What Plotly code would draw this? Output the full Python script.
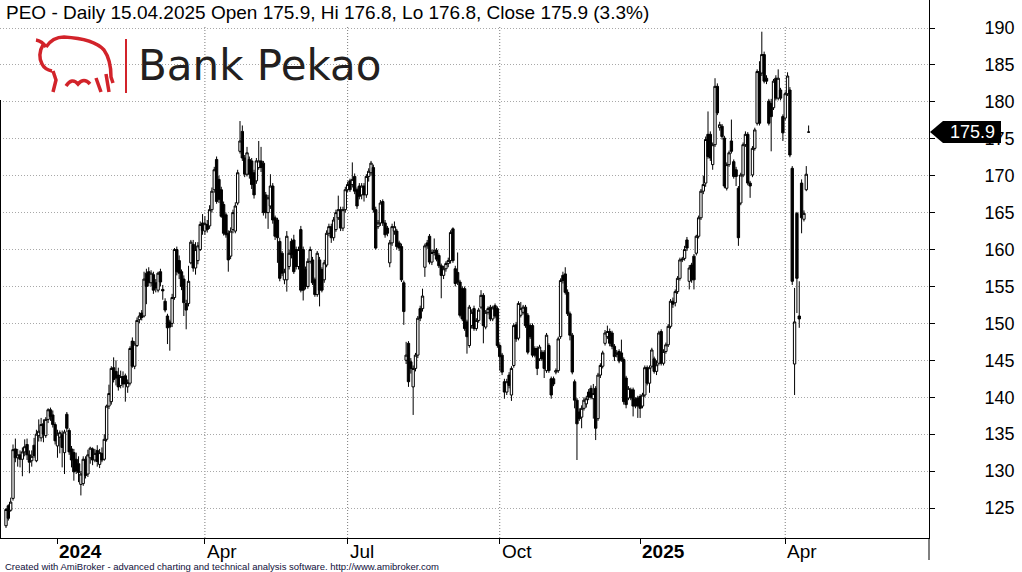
import pandas as pd
import plotly.graph_objects as go

# ---------------- data ----------------
START_DATE = "2023-11-28"
END_DATE = "2025-04-15"
HOLIDAYS = ["2023-12-25", "2023-12-26", "2024-01-01", "2024-03-29", "2024-04-01",
            "2024-05-01", "2024-05-03", "2024-05-30", "2024-08-15", "2024-11-01",
            "2024-11-11", "2024-12-24", "2024-12-25", "2024-12-26", "2024-12-31",
            "2025-01-01", "2025-01-06"]

OPEN = [
    122.6, 125.3, 124.7, 126.3, 133.0, 131.8, 132.2, 131.6, 132.6, 133.6,
    132.2, 131.4, 133.5, 131.4, 134.8, 134.5, 136.4, 134.8, 137.0, 138.3,
    137.6, 136.3, 133.4, 134.6, 135.0, 132.5, 137.7, 135.5, 133.0, 132.5,
    131.6, 131.0, 128.2, 128.3, 131.6, 129.6, 131.8, 133.0, 131.5, 132.8,
    130.9, 132.4, 131.6, 134.3, 138.8, 139.4, 144.0, 143.5, 143.0, 141.6,
    142.8, 142.9, 141.4, 141.9, 147.6, 144.2, 147.0, 150.5, 151.4, 151.0,
    156.8, 157.0, 155.5, 156.6, 155.5, 154.5, 157.0, 154.6, 153.0, 151.0,
    150.2, 150.0, 153.5, 160.0, 158.5, 157.0, 156.0, 152.7, 152.7, 158.2,
    160.7, 157.5, 158.5, 160.0, 163.6, 162.5, 163.4, 163.2, 165.4, 168.1,
    172.2, 169.5, 168.1, 166.1, 164.7, 162.2, 159.1, 162.7, 162.5, 166.3,
    173.3, 176.0, 172.4, 170.2, 172.2, 172.0, 170.4, 169.3, 171.1, 172.0,
    171.7, 167.4, 165.0, 165.9, 168.6, 164.3, 164.0, 161.1, 159.5, 155.9,
    155.9, 157.7, 161.1, 161.3, 160.0, 157.7, 162.7, 160.0, 157.3, 155.0,
    158.4, 158.6, 155.9, 153.9, 158.6, 157.3, 155.9, 157.9, 162.2, 163.1,
    161.6, 162.7, 164.3, 165.4, 162.9, 165.4, 168.1, 169.3, 168.8, 169.9,
    168.1, 168.6, 167.4, 168.6, 167.4, 169.9, 170.4, 171.1, 165.4, 163.1,
    163.6, 166.5, 163.6, 162.9, 158.2, 160.9, 162.5, 162.5, 160.9, 160.4,
    155.5, 145.0, 147.3, 144.8, 141.4, 143.9, 145.7, 152.0, 152.0, 157.6,
    160.9, 161.8, 158.3, 159.6, 159.9, 159.2, 157.8, 156.5, 157.4, 158.1,
    158.5, 162.8, 157.4, 156.9, 155.6, 154.7, 154.7, 150.2, 147.0, 149.7,
    152.0, 149.3, 150.4, 152.2, 153.8, 149.5, 151.5, 152.2, 150.6, 152.4,
    152.0, 147.0, 145.7, 142.1, 140.7, 143.0, 140.3, 144.3, 149.8, 148.0,
    151.1, 151.5, 152.2, 151.1, 149.7, 149.7, 146.6, 146.6, 145.2, 146.1,
    146.1, 143.6, 147.0, 142.5, 142.5, 143.4, 143.6, 148.2, 156.5, 156.7,
    154.2, 151.3, 148.4, 142.1, 139.6, 138.0, 137.3, 138.5, 139.1, 140.7,
    141.2, 139.8, 141.2, 137.1, 143.0, 144.2, 147.3, 148.2, 148.9, 148.7,
    146.9, 145.8, 146.2, 146.0, 145.1, 142.6, 139.9, 141.0, 141.0, 139.7,
    139.9, 140.1, 138.8, 140.3, 144.0, 141.9, 144.2, 145.2, 143.5, 144.6,
    148.9, 144.6, 146.2, 147.1, 149.6, 153.0, 152.8, 154.3, 156.1, 158.6,
    158.8, 161.3, 155.7, 157.9, 159.1, 159.5, 161.8, 164.3, 167.9, 169.0,
    175.6, 175.6, 171.5, 174.2, 182.1, 176.5, 176.7, 175.1, 168.3, 171.5,
    174.7, 171.9, 170.8, 168.3, 166.3, 170.1, 174.2, 175.6, 169.0, 170.1,
    173.7, 177.1, 184.1, 183.9, 186.4, 183.2, 180.1, 179.8, 179.2, 183.2,
    180.5, 181.6, 178.0, 177.8, 181.1, 181.6, 171.0, 144.5, 164.9, 151.0,
    169.0, 164.1, 168.1, 175.9,
]
HIGH = [
    125.0, 125.5, 126.4, 133.6, 134.4, 133.0, 132.8, 133.2, 134.3, 134.4,
    132.8, 132.8, 134.5, 135.6, 137.0, 137.2, 137.0, 137.3, 138.5, 138.6,
    138.2, 136.6, 135.6, 135.5, 135.5, 135.6, 138.0, 135.8, 133.4, 133.0,
    132.5, 132.0, 130.0, 132.0, 132.0, 132.9, 133.3, 133.2, 133.0, 133.5,
    133.0, 133.2, 135.0, 139.0, 141.7, 144.2, 145.4, 145.0, 144.0, 143.6,
    143.5, 143.2, 142.4, 146.9, 148.1, 147.6, 150.8, 151.5, 151.8, 157.0,
    157.4, 157.6, 157.2, 157.0, 156.0, 157.0, 157.4, 155.2, 153.4, 151.3,
    150.5, 154.0, 160.2, 160.4, 159.2, 157.3, 156.5, 153.2, 157.8, 161.3,
    161.3, 161.0, 161.0, 163.8, 164.8, 164.5, 164.0, 166.0, 168.4, 171.2,
    172.6, 170.0, 168.5, 166.5, 165.0, 162.6, 163.0, 165.4, 166.4, 170.8,
    177.4, 176.8, 172.8, 173.9, 172.6, 172.4, 170.8, 172.4, 174.7, 173.9,
    172.0, 167.8, 167.4, 170.2, 169.0, 164.6, 164.3, 161.6, 159.8, 157.4,
    162.5, 160.0, 161.5, 162.0, 160.4, 160.4, 163.2, 160.4, 157.7, 158.8,
    160.4, 159.0, 156.2, 159.8, 159.0, 157.6, 158.6, 162.6, 163.5, 163.5,
    164.4, 165.4, 167.3, 165.8, 165.8, 168.5, 169.2, 169.6, 171.8, 170.3,
    168.4, 169.0, 169.0, 169.0, 170.2, 171.0, 172.0, 171.5, 165.8, 164.0,
    166.7, 166.8, 164.0, 163.2, 161.3, 163.5, 163.8, 162.8, 161.2, 160.8,
    155.8, 147.5, 147.6, 145.3, 144.3, 146.0, 151.0, 152.4, 154.7, 160.8,
    161.3, 162.1, 160.0, 161.5, 160.2, 159.5, 158.1, 157.8, 158.4, 158.9,
    162.6, 163.0, 157.8, 159.6, 155.9, 155.0, 155.0, 150.5, 152.5, 151.9,
    152.4, 150.7, 152.1, 154.5, 154.1, 151.8, 152.3, 152.5, 152.4, 152.7,
    152.3, 147.3, 146.0, 142.5, 142.5, 143.4, 144.2, 150.0, 150.2, 153.0,
    152.9, 152.5, 152.5, 151.4, 150.0, 150.0, 146.9, 146.9, 147.1, 146.4,
    146.4, 148.7, 147.3, 142.8, 142.8, 143.9, 148.2, 156.1, 157.0, 157.6,
    154.6, 151.6, 148.7, 142.4, 139.9, 138.5, 138.9, 140.0, 140.2, 141.1,
    141.6, 141.8, 141.5, 143.3, 144.6, 146.3, 149.1, 149.7, 149.3, 149.0,
    147.2, 146.4, 146.5, 147.8, 145.4, 142.9, 141.5, 141.3, 141.3, 140.0,
    140.2, 140.4, 140.6, 144.3, 144.3, 144.3, 146.7, 145.5, 145.0, 149.0,
    149.2, 146.5, 147.4, 149.9, 153.3, 153.5, 154.6, 156.4, 158.9, 159.0,
    160.5, 161.7, 157.9, 158.2, 159.4, 162.0, 164.6, 168.2, 170.0, 175.3,
    178.7, 176.0, 174.5, 183.2, 182.5, 177.3, 177.0, 175.4, 171.8, 173.4,
    177.6, 172.2, 171.2, 168.6, 170.4, 174.5, 176.0, 175.9, 169.3, 174.0,
    176.5, 184.4, 185.5, 189.5, 186.8, 183.6, 180.4, 180.4, 183.1, 183.6,
    184.4, 181.9, 178.3, 181.4, 184.0, 182.0, 171.3, 154.8, 165.1, 155.7,
    169.5, 165.3, 171.3, 176.8,
]
LOW = [
    122.3, 123.3, 124.5, 126.0, 131.2, 130.6, 130.5, 129.3, 132.0, 131.5,
    129.7, 130.6, 131.8, 131.2, 134.0, 134.0, 133.9, 134.5, 136.5, 136.8,
    135.9, 133.6, 131.8, 132.4, 130.5, 129.6, 135.3, 132.2, 130.5, 128.7,
    129.6, 128.5, 126.7, 128.0, 129.0, 129.2, 131.0, 130.8, 131.2, 130.6,
    130.4, 131.2, 131.4, 134.0, 138.4, 139.0, 142.0, 141.6, 140.9, 141.2,
    141.3, 139.4, 140.6, 141.6, 144.0, 143.8, 146.8, 150.0, 150.4, 150.8,
    152.6, 155.0, 155.0, 154.0, 154.2, 154.2, 155.0, 153.2, 151.5, 147.2,
    146.3, 149.5, 153.2, 156.5, 156.0, 154.5, 151.0, 149.2, 152.3, 158.0,
    157.0, 156.6, 158.0, 159.8, 162.0, 162.0, 162.3, 162.8, 165.0, 167.7,
    166.2, 166.3, 164.3, 161.9, 161.6, 157.0, 158.7, 162.2, 162.2, 166.0,
    173.0, 172.0, 169.8, 169.9, 169.6, 168.2, 166.9, 168.9, 170.8, 170.5,
    164.6, 164.2, 162.8, 165.5, 163.5, 161.3, 158.2, 155.7, 156.4, 155.3,
    154.3, 157.3, 158.8, 156.7, 157.3, 157.3, 154.2, 153.1, 154.6, 154.7,
    158.1, 155.2, 153.6, 153.6, 152.3, 154.2, 155.5, 157.6, 161.8, 160.9,
    161.2, 162.4, 164.0, 162.5, 162.5, 165.0, 167.8, 167.8, 168.4, 167.5,
    165.5, 166.8, 166.8, 166.5, 167.0, 169.2, 170.0, 165.0, 160.0, 162.8,
    163.2, 163.2, 161.6, 161.8, 157.6, 160.5, 162.0, 160.0, 159.8, 155.6,
    149.8, 144.5, 141.4, 143.2, 137.6, 143.5, 145.3, 150.3, 151.6, 156.3,
    160.1, 158.0, 157.9, 159.2, 158.4, 157.5, 153.4, 156.0, 157.0, 157.6,
    158.1, 158.2, 155.0, 155.2, 150.8, 150.3, 149.0, 145.9, 146.7, 149.3,
    149.0, 149.0, 150.1, 151.9, 147.3, 149.2, 151.2, 150.3, 150.3, 150.7,
    146.7, 143.6, 143.0, 139.8, 140.3, 141.2, 139.5, 144.0, 147.5, 147.7,
    150.8, 151.2, 149.4, 145.8, 147.9, 145.4, 145.4, 143.0, 144.9, 144.9,
    142.6, 143.3, 143.3, 139.8, 141.5, 143.1, 143.3, 147.9, 155.4, 153.9,
    151.0, 147.7, 143.1, 138.5, 131.5, 136.8, 135.8, 138.2, 138.6, 139.6,
    139.7, 137.1, 134.2, 136.8, 142.6, 143.9, 147.0, 147.9, 146.9, 146.5,
    144.9, 145.4, 144.6, 144.8, 139.0, 138.5, 139.6, 139.6, 137.4, 138.5,
    137.2, 137.2, 138.5, 140.0, 141.6, 140.6, 143.9, 143.2, 143.0, 144.3,
    144.3, 144.3, 145.9, 146.8, 149.3, 152.1, 152.3, 154.0, 155.8, 158.3,
    158.5, 159.8, 154.6, 155.5, 154.6, 159.2, 161.5, 164.0, 167.5, 168.5,
    172.3, 172.0, 170.8, 173.9, 178.2, 176.1, 174.9, 168.3, 168.0, 171.2,
    173.0, 169.6, 168.6, 160.5, 166.0, 169.8, 173.9, 168.7, 167.0, 169.8,
    173.4, 176.8, 176.8, 183.5, 182.5, 182.4, 176.8, 173.3, 178.9, 180.2,
    180.2, 180.2, 174.7, 177.5, 180.8, 172.5, 155.2, 140.3, 151.4, 149.4,
    162.2, 163.8, 167.9, 175.9,
]
CLOSE = [
    124.8, 123.6, 125.8, 132.9, 131.8, 132.2, 131.6, 132.6, 133.3, 132.2,
    131.2, 132.0, 132.1, 135.0, 135.4, 136.3, 135.0, 137.0, 138.3, 137.4,
    136.3, 134.1, 135.0, 135.2, 133.2, 135.3, 135.8, 132.6, 131.5, 129.9,
    130.0, 129.8, 129.6, 131.6, 129.4, 132.2, 133.1, 131.5, 132.4, 131.3,
    132.5, 131.5, 134.3, 138.8, 140.5, 143.9, 142.4, 142.6, 141.4, 142.8,
    141.8, 141.8, 142.0, 146.6, 144.2, 147.2, 150.4, 151.0, 150.8, 156.0,
    155.0, 155.5, 156.8, 154.5, 154.8, 156.8, 155.6, 154.4, 151.8, 149.4,
    149.5, 153.5, 160.0, 157.0, 156.8, 155.0, 152.8, 151.8, 155.7, 161.0,
    157.5, 160.0, 160.5, 163.4, 162.6, 163.5, 162.7, 165.4, 167.9, 170.8,
    166.5, 166.8, 164.5, 162.2, 162.0, 158.6, 162.5, 165.0, 165.9, 170.4,
    174.7, 172.4, 170.2, 173.1, 170.2, 168.8, 167.4, 172.0, 172.0, 171.1,
    165.0, 165.0, 167.0, 168.6, 164.0, 161.8, 161.6, 156.1, 156.8, 157.0,
    161.8, 159.5, 159.3, 157.0, 157.7, 160.0, 154.5, 154.5, 155.0, 158.4,
    160.0, 155.5, 153.9, 159.5, 154.5, 154.5, 158.2, 162.2, 163.1, 161.6,
    164.0, 165.0, 165.4, 162.9, 165.4, 168.1, 168.8, 168.1, 169.5, 167.9,
    165.9, 167.2, 168.6, 167.4, 169.9, 170.6, 171.7, 165.4, 160.2, 163.6,
    166.3, 163.6, 162.0, 162.2, 160.9, 163.1, 163.1, 160.4, 160.2, 155.9,
    151.6, 145.7, 142.1, 143.9, 143.9, 145.7, 150.7, 150.7, 153.7, 160.5,
    160.5, 158.3, 159.6, 159.9, 158.7, 157.8, 156.5, 157.4, 158.1, 158.5,
    162.3, 158.5, 155.4, 155.6, 151.1, 150.6, 149.3, 148.2, 152.2, 151.5,
    149.3, 150.4, 151.8, 153.8, 149.7, 151.5, 152.0, 150.6, 152.1, 151.0,
    147.0, 145.5, 143.4, 140.7, 142.1, 141.6, 143.9, 149.7, 147.9, 152.7,
    152.0, 152.2, 149.7, 146.1, 148.2, 145.7, 145.7, 143.9, 146.8, 145.2,
    143.9, 148.4, 143.6, 140.3, 141.8, 143.6, 147.9, 155.8, 155.8, 154.2,
    151.3, 148.4, 143.4, 139.6, 136.4, 137.1, 138.5, 139.6, 139.8, 140.0,
    140.0, 140.5, 135.8, 143.0, 144.3, 146.0, 148.7, 148.9, 147.3, 146.9,
    145.5, 146.0, 144.9, 145.1, 139.4, 139.0, 141.2, 139.9, 138.8, 138.8,
    138.8, 138.5, 140.3, 144.0, 141.9, 144.0, 146.4, 143.5, 144.4, 148.7,
    144.6, 146.2, 147.1, 149.6, 153.0, 152.6, 154.3, 156.1, 158.6, 158.7,
    160.0, 160.2, 157.5, 155.9, 155.9, 161.8, 164.3, 167.9, 168.8, 174.9,
    172.6, 172.4, 174.2, 182.1, 178.5, 176.9, 175.3, 168.6, 171.5, 173.1,
    173.3, 169.9, 169.9, 161.6, 170.1, 174.2, 175.6, 169.0, 168.6, 173.7,
    176.2, 184.1, 177.1, 186.4, 182.8, 182.8, 177.1, 178.0, 182.8, 180.5,
    183.2, 180.5, 175.8, 181.1, 183.5, 172.8, 155.7, 150.2, 156.1, 150.6,
    164.3, 164.9, 170.2, 175.9,
]

TICK_DATES = ["2024-01-02", "2024-04-02", "2024-07-01", "2024-10-01", "2025-01-02", "2025-04-01"]
TICK_TEXT = ["2024", "Apr", "Jul", "Oct", "2025", "Apr"]
Y_TICKS = [125, 130, 135, 140, 145, 150, 155, 160, 165, 170, 175, 180, 185, 190]
LAST_PRICE = 175.9
TITLE = "PEO - Daily 15.04.2025 Open 175.9, Hi 176.8, Lo 176.8, Close 175.9 (3.3%)"
FOOTER = "Created with AmiBroker - advanced charting and technical analysis software. http://www.amibroker.com"

# ---------------- build ----------------
dates = [d.strftime("%Y-%m-%d") for d in pd.bdate_range(START_DATE, END_DATE)
         if d.strftime("%Y-%m-%d") not in HOLIDAYS]
idx = list(range(len(CLOSE)))
tick_idx = [dates.index(d) for d in TICK_DATES]

W, H = 1022, 572
ML, MR, MT, MB = 0, 93, 0, 34
PH = H - MT - MB  # plot height in px

FONT = "Liberation Sans, Arial, sans-serif"

fig = go.Figure()
fig.add_trace(go.Candlestick(
    x=idx, open=OPEN, high=HIGH, low=LOW, close=CLOSE,
    customdata=dates[:len(CLOSE)],
    increasing=dict(line=dict(color="black", width=1), fillcolor="white"),
    decreasing=dict(line=dict(color="black", width=1), fillcolor="black"),
    whiskerwidth=0, showlegend=False,
    hoverinfo="x+y",
))

shapes = []
# vertical dotted grid at month (non-year) ticks
for ti, tt in zip(tick_idx, TICK_TEXT):
    if not tt.isdigit():
        shapes.append(dict(type="line", xref="x", yref="paper", x0=ti, x1=ti,
                           y0=0, y1=(PH - 25) / PH,
                           line=dict(color="#7a7a7a", width=1, dash="1px,2px"), layer="below"))
# right axis line extension below x axis
shapes.append(dict(type="line", xref="paper", yref="paper", x0=1, x1=1, y0=0, y1=-22 / PH,
                   line=dict(color="black", width=1)))
# left border
shapes.append(dict(type="line", xref="paper", yref="paper", xsizemode="pixel", xanchor=0,
                   x0=0.5, x1=0.5, y0=0, y1=(PH - 100) / PH, line=dict(color="black", width=1)))
# last price tag
shapes.append(dict(type="path", xref="paper", yref="y", xsizemode="pixel", ysizemode="pixel",
                   xanchor=1, yanchor=LAST_PRICE,
                   path="M 1,0 L 14,11 L 72,11 L 72,-11 L 14,-11 Z",
                   fillcolor="black", line=dict(width=0)))
# logo: bison outline + divider
RED = "#d2232a"
shapes.append(dict(type="path", xref="paper", yref="paper", xsizemode="pixel", ysizemode="pixel",
                   xanchor=0, yanchor=1,
                   path=("M 36,-40 Q 42,-41 46,-47 "
                         "M 43,-45 C 39,-51 39,-59 42,-64 C 44,-68 47,-70 52,-71 "
                         "M 46,-47 C 50,-41 56,-37 64,-37 C 80,-38 96,-41 104,-50 "
                         "C 109,-57 111,-68 111,-77 L 113,-83 "
                         "M 53,-71 L 56,-80 L 53,-92 "
                         "M 66,-86 Q 72,-77 78,-84 Q 84,-77 90,-84 "
                         "M 96,-78 L 101,-92 "
                         "M 106,-74 L 109,-92"),
                   line=dict(color=RED, width=3.5)))
shapes.append(dict(type="line", xref="paper", yref="paper", xsizemode="pixel", ysizemode="pixel",
                   xanchor=0, yanchor=1, x0=126, x1=126, y0=-39, y1=-93,
                   line=dict(color=RED, width=2)))

annotations = []
for ti, tt in zip(tick_idx, TICK_TEXT):
    annotations.append(dict(x=ti, xref="x", y=0, yref="paper", yanchor="top", xanchor="left",
                            xshift=0, yshift=-1, showarrow=False,
                            text=f"<b>{tt}</b>" if tt.isdigit() else tt,
                            font=dict(family=FONT, size=19, color="black")))
annotations.append(dict(x=0, xref="paper", xshift=4, y=1, yref="paper", yanchor="top",
                        xanchor="left", showarrow=False, text=TITLE,
                        font=dict(family=FONT, size=19, color="black")))
annotations.append(dict(x=0, xref="paper", xshift=3, y=0, yref="paper", yshift=-28,
                        yanchor="middle", xanchor="left", showarrow=False, text=FOOTER,
                        font=dict(family=FONT, size=9.5, color="#10103a")))
annotations.append(dict(x=0, xref="paper", xshift=136, y=1, yref="paper", yshift=-65,
                        yanchor="middle", xanchor="left", showarrow=False, text="Bank Pekao",
                        font=dict(family="DejaVu Sans, sans-serif", size=42, color="#231f20")))
annotations.append(dict(x=1, xref="paper", xshift=43, y=LAST_PRICE, yref="y",
                        xanchor="center", yanchor="middle", showarrow=False,
                        text=str(LAST_PRICE),
                        font=dict(family=FONT, size=18, color="white")))

# pixel -> axis range
PX0, PXD = 6.0, 2.34           # px of first candle, px per trading day
PLOT_W = W - ML - MR
x_range = [-PX0 / PXD, (PLOT_W - PX0) / PXD]
PPU = (508 - 28) / 65.0        # px per price unit
y_range = [190 - (PH - 28) / PPU, 190 + 28 / PPU]

fig.update_layout(
    width=W, height=H,
    margin=dict(l=ML, r=MR, t=MT, b=MB, pad=0),
    paper_bgcolor="white", plot_bgcolor="white",
    boxgap=0.0, boxgroupgap=0.0,
    shapes=shapes, annotations=annotations,
    font=dict(family=FONT, size=18, color="black"),
    xaxis=dict(range=x_range, rangeslider=dict(visible=False), showgrid=False, zeroline=False,
               tickmode="array", tickvals=tick_idx, showticklabels=False,
               ticks="outside", ticklen=5, tickcolor="black", tickwidth=1,
               showline=True, linecolor="black", linewidth=1),
    yaxis=dict(range=y_range, side="right", tickmode="array", tickvals=Y_TICKS,
               ticktext=[str(v) for v in Y_TICKS],
               showgrid=True, gridcolor="#a8a8a8", gridwidth=1, griddash="1px,2px",
               zeroline=False, ticks="outside", ticklen=5, tickcolor="black",
               showline=True, linecolor="black", linewidth=1,
               ticklabelstandoff=46,
               tickfont=dict(family=FONT, size=18, color="black")),
    hovermode=False,
)

fig.write_html("out.html", config={"displayModeBar": False},
               post_script="document.body.style.margin='0';document.body.style.overflow='hidden';")
